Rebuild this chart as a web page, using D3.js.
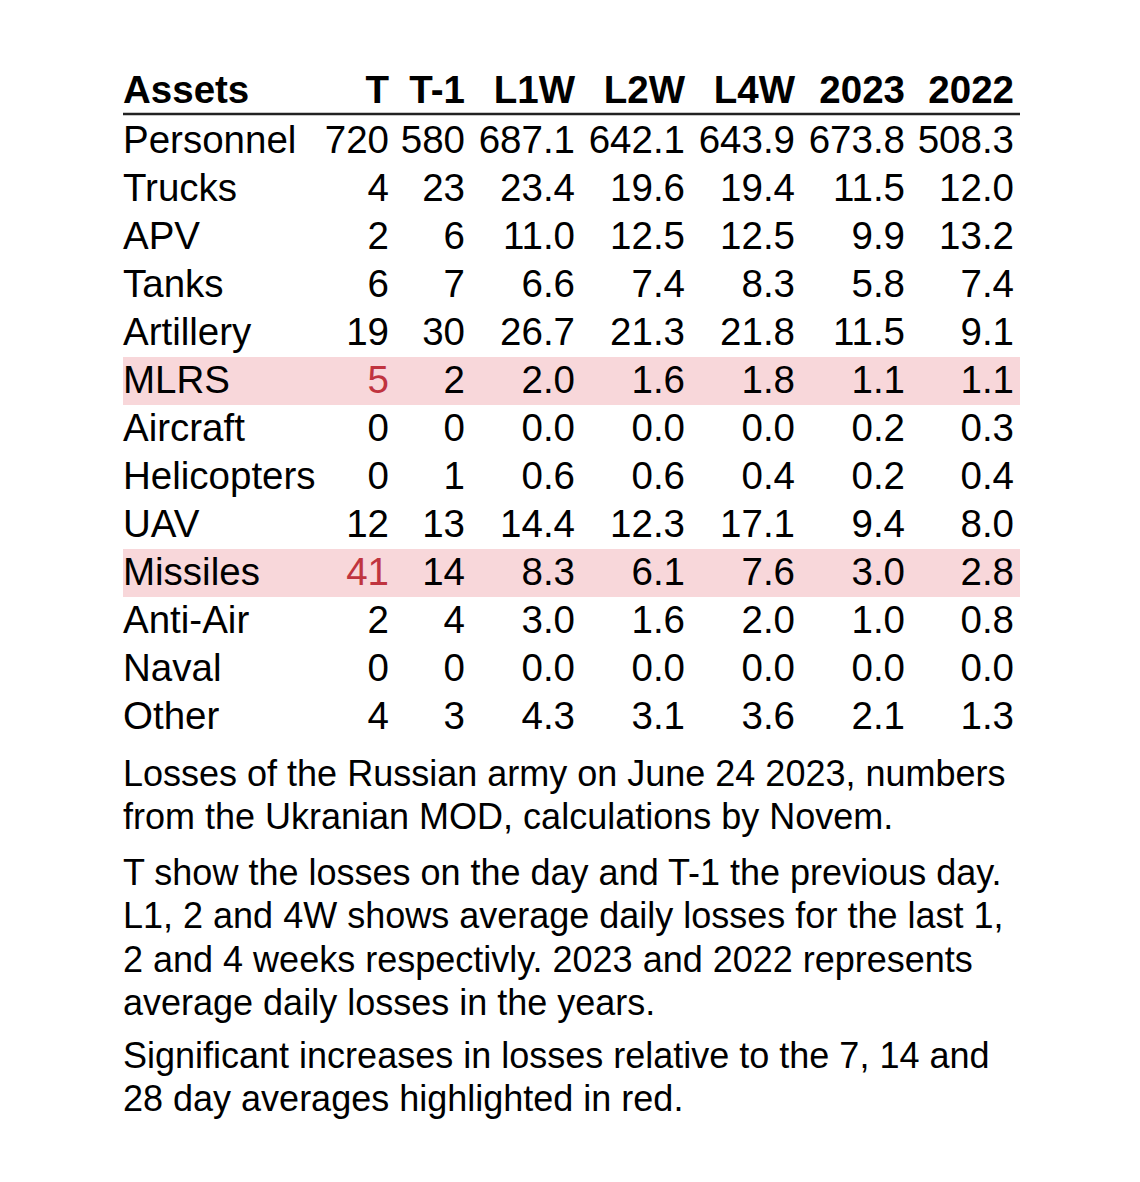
<!DOCTYPE html>
<html><head><meta charset="utf-8">
<script src="https://cdn.jsdelivr.net/npm/d3@7"></script>
<style>body{margin:0;background:#fff}svg{display:block}</style>
</head><body>
<script>
const assets = ["Personnel","Trucks","APV","Tanks","Artillery","MLRS","Aircraft","Helicopters","UAV","Missiles","Anti-Air","Naval","Other"];
const columns = ["T","T-1","L1W","L2W","L4W","2023","2022"];
const valT    = [720,4,2,6,19,5,0,0,12,41,2,0,4];
const valT1   = [580,23,6,7,30,2,0,1,13,14,4,0,3];
const valL1W  = [687.1,23.4,11.0,6.6,26.7,2.0,0.0,0.6,14.4,8.3,3.0,0.0,4.3];
const valL2W  = [642.1,19.6,12.5,7.4,21.3,1.6,0.0,0.6,12.3,6.1,1.6,0.0,3.1];
const valL4W  = [643.9,19.4,12.5,8.3,21.8,1.8,0.0,0.4,17.1,7.6,2.0,0.0,3.6];
const val2023 = [673.8,11.5,9.9,5.8,11.5,1.1,0.2,0.2,9.4,3.0,1.0,0.0,2.1];
const val2022 = [508.3,12.0,13.2,7.4,9.1,1.1,0.3,0.4,8.0,2.8,0.8,0.0,1.3];
const highlighted = ["MLRS","Missiles"];
const captions = [
  ["Losses of the Russian army on June 24 2023, numbers","from the Ukranian MOD, calculations by Novem."],
  ["T show the losses on the day and T-1 the previous day.","L1, 2 and 4W shows average daily losses for the last 1,","2 and 4 weeks respectivly. 2023 and 2022 represents","average daily losses in the years."],
  ["Significant increases in losses relative to the 7, 14 and","28 day averages highlighted in red."]
];

const series = [valT,valT1,valL1W,valL2W,valL4W,val2023,val2022];
const W=1140,H=1182;
const svg=d3.select("body").append("svg").attr("width",W).attr("height",H);
const font="Liberation Sans, Arial, sans-serif";
const left=123, right=1020;
const colRight=[389,465,575,685,795,905,1014];
const x=d3.scaleOrdinal().domain(columns).range(colRight);
const y=d3.scaleBand().domain(assets).range([116,116+48*assets.length]);
const fmt=(ci,v)=> ci<2 ? d3.format("d")(v) : d3.format(".1f")(v);

// highlight backgrounds
svg.selectAll("rect.hl").data(highlighted).join("rect")
  .attr("x",left).attr("width",right-left)
  .attr("y",d=>y(d)+1).attr("height",y.bandwidth())
  .attr("fill","#f8d7da");

// header
const hdr=svg.append("g").attr("font-family",font).attr("font-weight","bold").attr("font-size",38.5).attr("fill","#000");
hdr.append("text").attr("x",left).attr("y",103).text("Assets");
hdr.selectAll("text.col").data(columns).join("text").attr("class","col")
  .attr("x",d=>x(d)).attr("y",103).attr("text-anchor","end").text(d=>d);
svg.append("line").attr("x1",left).attr("x2",right).attr("y1",114).attr("y2",114)
  .attr("stroke","#222").attr("stroke-width",2.5);

// body
const body=svg.append("g").attr("font-family",font).attr("font-size",38.5);
assets.forEach((a,ri)=>{
  const by=y(a)+y.bandwidth()/2+13;
  body.append("text").attr("x",left).attr("y",by).attr("fill","#000").text(a);
  columns.forEach((c,ci)=>{
    const red = ci===0 && highlighted.includes(a);
    body.append("text").attr("x",x(c)).attr("y",by).attr("text-anchor","end")
      .attr("fill",red?"#c0343f":"#000").text(fmt(ci,series[ci][ri]));
  });
});

// captions
const cap=svg.append("g").attr("font-family",font).attr("font-size",36).attr("fill","#000");
const paraStart=[786,885,1068];
captions.forEach((p,pi)=>{
  p.forEach((line,li)=>{
    cap.append("text").attr("x",left).attr("y",paraStart[pi]+li*43.3).text(line);
  });
});
</script>
</body></html>
